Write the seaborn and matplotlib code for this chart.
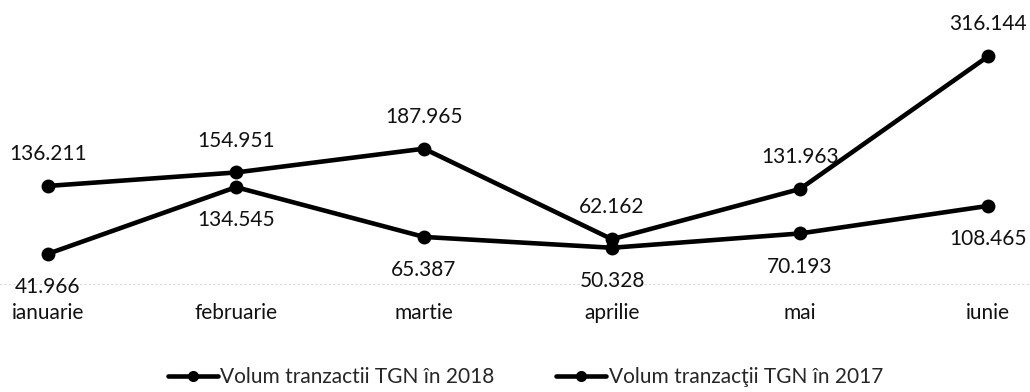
import matplotlib
matplotlib.use("Agg")
import matplotlib.pyplot as plt
import seaborn as sns
import pandas as pd

luni = ["ianuarie", "februarie", "martie", "aprilie", "mai", "iunie"]
volum_2018 = [136.211, 154.951, 187.965, 62.162, 131.963, 316.144]
volum_2017 = [41.966, 134.545, 65.387, 50.328, 70.193, 108.465]
serii = ["Volum tranzactii TGN în 2018", "Volum tranzacţii TGN în 2017"]

sns.set_theme(style="white")
plt.rcParams["font.family"] = ["Lato", "DejaVu Sans"]

df = pd.DataFrame({
    "luna": luni * 2,
    "volum": volum_2018 + volum_2017,
    "serie": [serii[0]] * len(luni) + [serii[1]] * len(luni),
})

fig = plt.figure(figsize=(10.3, 3.92), dpi=100)
ax = fig.add_axes([0.0, 0.2755, 1.0, 0.6224])

sns.lineplot(data=df, x="luna", y="volum", hue="serie", hue_order=serii,
             palette=["black", "black"], marker="o", markersize=10,
             markeredgewidth=0, linewidth=3.3, sort=False, ax=ax, legend=True)

fs = 15

# value labels: 2018 above the points, 2017 below
for i, v in enumerate(volum_2018):
    ax.annotate(f"{v:.3f}", (i, v), xytext=(0, 23), textcoords="offset points",
                ha="center", va="center", fontsize=fs, color="#111111")
for i, v in enumerate(volum_2017):
    ax.annotate(f"{v:.3f}", (i, v), xytext=(0, -24), textcoords="offset points",
                ha="center", va="center", fontsize=fs, color="#111111")

ax.set_xlim(-48 / 188, 5 + 42 / 188)
ax.set_ylim(0, 338.9)
ax.set_xlabel("")
ax.set_ylabel("")
ax.set_yticks([])
ax.tick_params(axis="x", length=0, pad=14, labelsize=fs, labelcolor="#111111")
for s in ["top", "left", "right"]:
    ax.spines[s].set_visible(False)
ax.spines["bottom"].set_color("#dadada")
ax.spines["bottom"].set_linestyle((0, (1, 3)))
ax.spines["bottom"].set_linewidth(0.8)

handles, labels = ax.get_legend_handles_labels()
ax.get_legend().remove()
fig.legend(handles, labels, loc="lower center", ncol=2, frameon=False,
           fontsize=fs, bbox_to_anchor=(0.51, -0.035), handlelength=2.4,
           handletextpad=0.1, columnspacing=3.0, markerscale=0.8)

fig.savefig("out.png", dpi=100)
